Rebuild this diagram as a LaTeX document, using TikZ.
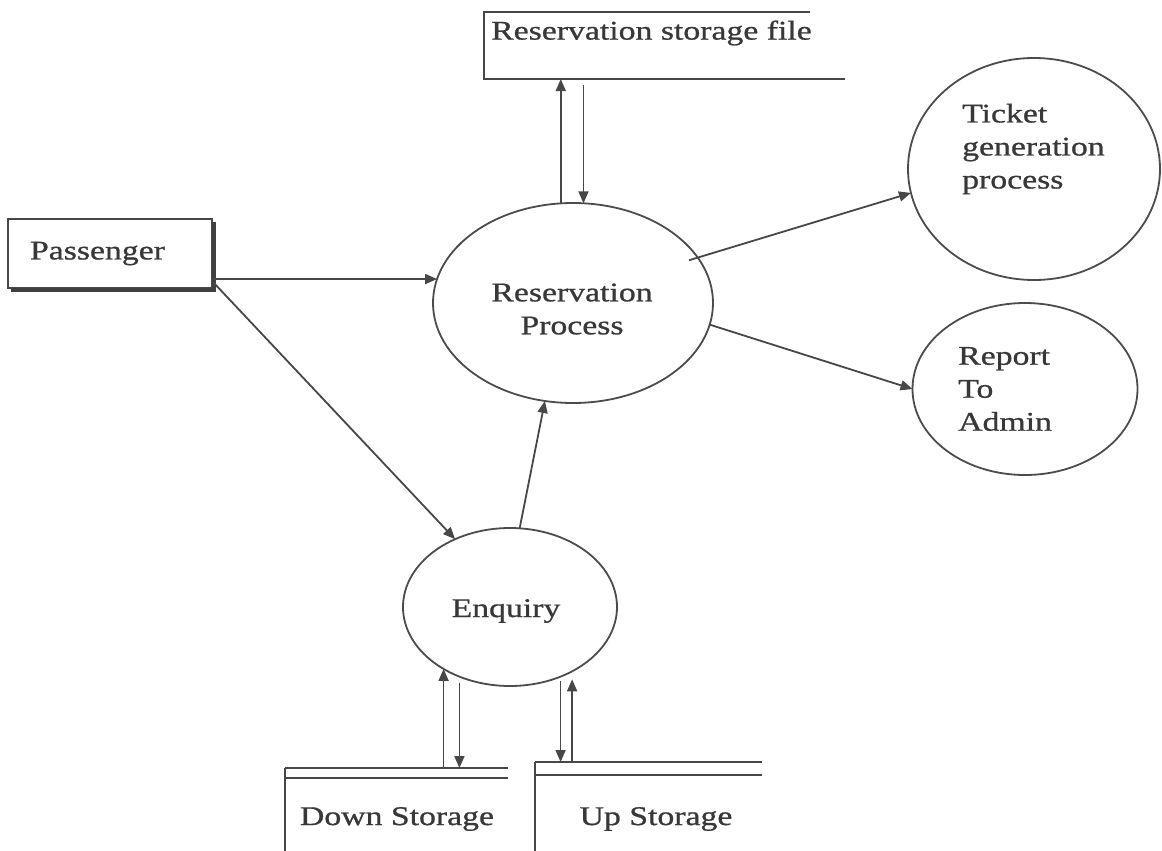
\documentclass[tikz,border=0pt]{standalone}
\usepackage{fontspec}
\setmainfont{Liberation Serif}[FakeStretch=1.25,FakeBold=0.8]
\usetikzlibrary{shapes.geometric,arrows.meta,calc}
\begin{document}
\begin{tikzpicture}[x=1pt,y=-1pt,
  font=\fontsize{27}{33}\selectfont,
  every node/.style={text=black!78},
  ln/.style={draw=black!72, line width=1.8pt},
  arr/.style={ln, -{Triangle[length=12pt,width=10pt]}},
  proc/.style={ellipse, draw=black!70, line width=1.8pt, inner sep=0pt, outer sep=0pt, align=center},
  store/.style={inner sep=0pt, outer sep=0pt, anchor=north west},
]
\useasboundingbox[fill=white] (0,0) rectangle (1162,851);

% Passenger (external entity)
\node[draw=black!72, line width=1.8pt, anchor=north west, minimum width=204pt, minimum height=69pt,
      text width=160pt, inner xsep=22pt, inner ysep=0pt, outer sep=0pt, align=left] (pass) at (8,219) {Passenger};
\draw[black!75, line width=4pt] ($(pass.north east)+(1.5,3)$) -- ($(pass.south east)+(1.5,1.5)$) -- ($(pass.south west)+(3,1.5)$);

% Processes
\node[proc, minimum width=280pt, minimum height=200pt] (rp) at (573,303) {};
\node[align=center, inner sep=0pt] (rpt) at (572,309) {Reservation\\Process};
\node[proc, minimum width=252pt, minimum height=222pt] (tg) at (1034,169) {};
\node[anchor=west, align=left, inner sep=0pt] (tgt) at (962,149) {Ticket\\generation\\process};
\node[proc, minimum width=225pt, minimum height=172pt] (rep) at (1025,389) {};
\node[anchor=west, align=left, inner sep=0pt] (rept) at (958,389) {Report\\To\\Admin};
\node[proc, minimum width=214pt, minimum height=158pt] (enq) at (510,607) {};
\node[inner sep=0pt] (enqt) at (506,611) {Enquiry};

% Reservation storage file
\node[store, minimum width=361pt, minimum height=67pt] (rsf) at (484,12) {};
\draw[ln] ($(rsf.north east)+(-35,0)$) -- (rsf.north west) -- (rsf.south west) -- (rsf.south east);
\node[anchor=west, inner sep=0pt] (rsft) at (491,33) {Reservation storage file};

% Down storage
\node[store, minimum width=223pt, minimum height=83pt] (ds) at (285,768) {};
\draw[ln] (ds.north west) -- (ds.north east);
\draw[ln] ($(ds.north west)+(0,10)$) -- ($(ds.north east)+(0,10)$);
\draw[ln] (ds.north west) -- (ds.south west);
\node[inner sep=0pt] (dst) at (397,819) {Down Storage};

% Up storage
\node[store, minimum width=227pt, minimum height=89pt] (us) at (535,762) {};
\draw[ln] (us.north west) -- (us.north east);
\draw[ln] ($(us.north west)+(0,13)$) -- ($(us.north east)+(0,13)$);
\draw[ln] (us.north west) -- (us.south west);
\node[inner sep=0pt] (ust) at (656,819) {Up Storage};

% Connectors
\draw[arr] (pass.east |- rp.170) -- (rp.170);
\draw[arr] ($(pass.south east)+(1,-6)$) -- (enq.129);
\draw[arr] (enq.83) -- (rp.254);
\draw[arr, shorten <=-9pt] (rp.20) -- (tg.191);
\draw[arr] (rp.351) -- (rep.180);
\draw[arr] (rp.97) -- (rp.97 |- rsf.south);
\draw[arr] ($(rp.84 |- rsf.south)+(0,6)$) -- (rp.84);
\draw[arr] (enq.223 |- ds.north) -- (enq.223);
\draw[arr] ($(enq.234)+(0,6)$) -- (enq.234 |- ds.north);
\draw[arr] ($(enq.306)+(0,4)$) -- (enq.306 |- us.north);
\draw[arr] (enq.314 |- us.north) -- ($(enq.314)+(0,8)$);
\end{tikzpicture}
\end{document}
